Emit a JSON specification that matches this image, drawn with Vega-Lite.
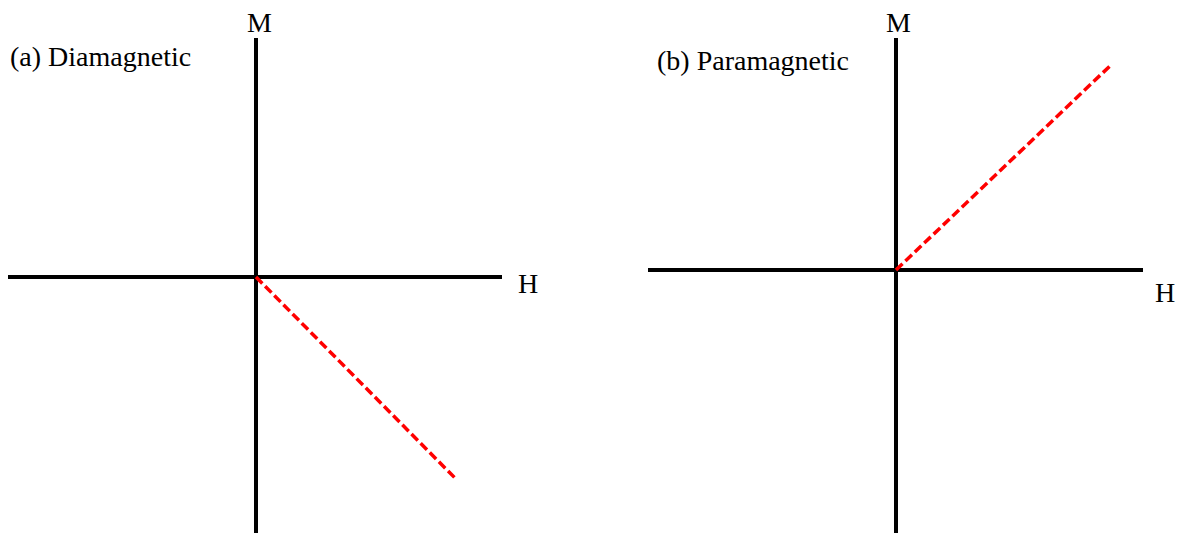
{
  "$schema": "https://vega.github.io/schema/vega-lite/v6.json",
  "background": "white",
  "padding": 0,
  "spacing": 100,
  "bounds": "flush",
  "config": {
    "view": {"stroke": null},
    "text": {"font": "Liberation Serif", "fontSize": 28, "color": "black", "align": "left", "baseline": "alphabetic"}
  },
  "datasets": {
    "segments": [
      {"panel": "a", "kind": "axis", "h0": -2.48, "m0": 0, "h1": 2.46, "m1": 0},
      {"panel": "a", "kind": "axis", "h0": 0, "m0": 2.39, "h1": 0, "m1": -2.56},
      {"panel": "a", "kind": "response", "h0": 0, "m0": 0, "h1": 2.0, "m1": -2.02},
      {"panel": "b", "kind": "axis", "h0": -2.48, "m0": 0, "h1": 2.47, "m1": 0},
      {"panel": "b", "kind": "axis", "h0": 0, "m0": 2.32, "h1": 0, "m1": -2.63},
      {"panel": "b", "kind": "response", "h0": 0, "m0": 0, "h1": 2.16, "m1": 2.06}
    ],
    "labels": [
      {"panel": "a", "h": -0.09, "m": 2.45, "label": "M"},
      {"panel": "a", "h": 2.62, "m": -0.16, "label": "H"},
      {"panel": "a", "h": -2.46, "m": 2.115, "label": "(a) Diamagnetic"},
      {"panel": "b", "h": -0.1, "m": 2.38, "label": "M"},
      {"panel": "b", "h": 2.59, "m": -0.32, "label": "H"},
      {"panel": "b", "h": -2.39, "m": 2.0, "label": "(b) Paramagnetic"}
    ]
  },
  "hconcat": [
    {
      "width": 540,
      "height": 534,
      "layer": [
        {
          "data": {"name": "segments"},
          "transform": [{"filter": "datum.panel === 'a' && datum.kind === 'axis'"}],
          "mark": {"type": "rule", "strokeWidth": 4, "color": "black"},
          "encoding": {
            "x": {"field": "h0", "type": "quantitative", "scale": {"domain": [-2.56, 2.84], "nice": false, "zero": false}, "axis": null},
            "y": {"field": "m0", "type": "quantitative", "scale": {"domain": [-2.57, 2.77], "nice": false, "zero": false}, "axis": null},
            "x2": {"field": "h1"},
            "y2": {"field": "m1"}
          }
        },
        {
          "data": {"name": "segments"},
          "transform": [{"filter": "datum.panel === 'a' && datum.kind === 'response'"}],
          "mark": {"type": "rule", "strokeWidth": 3.5, "color": "#ff0000", "strokeDash": [9, 4]},
          "encoding": {
            "x": {"field": "h0", "type": "quantitative"},
            "y": {"field": "m0", "type": "quantitative"},
            "x2": {"field": "h1"},
            "y2": {"field": "m1"}
          }
        },
        {
          "data": {"name": "labels"},
          "transform": [{"filter": "datum.panel === 'a'"}],
          "mark": {"type": "text"},
          "encoding": {
            "x": {"field": "h", "type": "quantitative"},
            "y": {"field": "m", "type": "quantitative"},
            "text": {"field": "label"}
          }
        }
      ]
    },
    {
      "width": 540,
      "height": 534,
      "layer": [
        {
          "data": {"name": "segments"},
          "transform": [{"filter": "datum.panel === 'b' && datum.kind === 'axis'"}],
          "mark": {"type": "rule", "strokeWidth": 4, "color": "black"},
          "encoding": {
            "x": {"field": "h0", "type": "quantitative", "scale": {"domain": [-2.56, 2.84], "nice": false, "zero": false}, "axis": null},
            "y": {"field": "m0", "type": "quantitative", "scale": {"domain": [-2.64, 2.70], "nice": false, "zero": false}, "axis": null},
            "x2": {"field": "h1"},
            "y2": {"field": "m1"}
          }
        },
        {
          "data": {"name": "segments"},
          "transform": [{"filter": "datum.panel === 'b' && datum.kind === 'response'"}],
          "mark": {"type": "rule", "strokeWidth": 3.5, "color": "#ff0000", "strokeDash": [9, 4]},
          "encoding": {
            "x": {"field": "h0", "type": "quantitative"},
            "y": {"field": "m0", "type": "quantitative"},
            "x2": {"field": "h1"},
            "y2": {"field": "m1"}
          }
        },
        {
          "data": {"name": "labels"},
          "transform": [{"filter": "datum.panel === 'b'"}],
          "mark": {"type": "text"},
          "encoding": {
            "x": {"field": "h", "type": "quantitative"},
            "y": {"field": "m", "type": "quantitative"},
            "text": {"field": "label"}
          }
        }
      ]
    }
  ]
}
